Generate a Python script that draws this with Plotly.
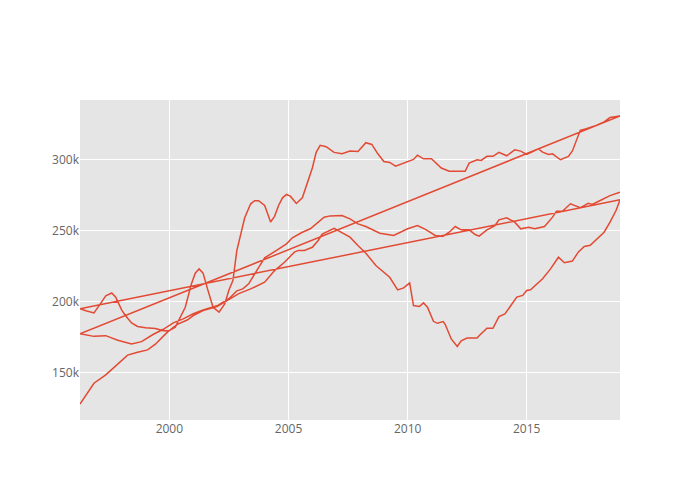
import plotly.graph_objects as go

# Series A (lowest start, dips after 2007)
dates_a = ["1996-04", "1996-11", "1997-05", "1997-10", "1998-04", "1998-09", "1999-02", "1999-06",
           "1999-12", "2000-05", "2000-10", "2001-01", "2001-06", "2002-01", "2002-07", "2002-12",
           "2003-06", "2004-01", "2004-06", "2004-11", "2005-04", "2005-06", "2005-09", "2006-01",
           "2006-04", "2006-06", "2006-12", "2007-08", "2007-12", "2008-04", "2008-09", "2009-04",
           "2009-08", "2009-11", "2010-02", "2010-04", "2010-07", "2010-09", "2010-11", "2011-02",
           "2011-04", "2011-07", "2011-08", "2011-11", "2012-02", "2012-04", "2012-07", "2012-12",
           "2013-01", "2013-05", "2013-08", "2013-11", "2014-02", "2014-05", "2014-08", "2014-11",
           "2015-01", "2015-03", "2015-09", "2016-01", "2016-05", "2016-08", "2016-12", "2017-03",
           "2017-06", "2017-09", "2018-02", "2018-04", "2018-07", "2018-10", "2018-12"]
values_a = [127.9, 142.5, 148.4, 154.9, 162.3, 164.3, 166.0, 170.0,
            178.5, 184.0, 187.0, 190.1, 193.6, 196.5, 201.2, 205.6,
            208.9, 213.6, 221.8, 227.7, 234.8, 236.0, 236.0, 238.2,
            243.0, 247.5, 251.6, 245.3, 239.4, 234.0, 225.4, 217.1,
            208.2, 209.6, 213.1, 197.2, 196.5, 199.1, 196.0, 186.1,
            184.7, 185.9, 183.8, 173.7, 168.4, 172.4, 174.3, 174.3,
            175.9, 181.2, 181.2, 189.4, 191.3, 197.2, 203.1, 204.3,
            207.8, 208.3, 216.0, 223.0, 231.2, 227.3, 228.5, 234.8,
            238.8, 239.6, 246.5, 248.8, 255.9, 264.1, 271.6]

# Series B (top curve)
dates_b = ["1996-04", "1996-07", "1996-11", "1997-02", "1997-05", "1997-08", "1997-10", "1998-01",
           "1998-03", "1998-06", "1998-09", "1999-01", "1999-06", "1999-10", "2000-01", "2000-04",
           "2000-07", "2000-09", "2000-12", "2001-02", "2001-04", "2001-06", "2001-08", "2001-11",
           "2002-02", "2002-05", "2002-07", "2002-09", "2002-11", "2003-01", "2003-03", "2003-06",
           "2003-08", "2003-10", "2004-01", "2004-03", "2004-04", "2004-06", "2004-08", "2004-10",
           "2004-12", "2005-02", "2005-05", "2005-08", "2005-11", "2006-01", "2006-03", "2006-05",
           "2006-08", "2006-12", "2007-04", "2007-08", "2007-12", "2008-02", "2008-04", "2008-07",
           "2008-10", "2009-01", "2009-04", "2009-07", "2009-10", "2010-02", "2010-04", "2010-06",
           "2010-09", "2011-01", "2011-03", "2011-06", "2011-10", "2012-06", "2012-08", "2012-12",
           "2013-02", "2013-05", "2013-08", "2013-11", "2014-03", "2014-07", "2014-10", "2015-01",
           "2015-07", "2015-09", "2015-12", "2016-02", "2016-06", "2016-10", "2016-12", "2017-04",
           "2017-07", "2017-12", "2018-04", "2018-07", "2018-12"]
values_b = [195.0, 193.5, 192.0, 198.0, 204.0, 206.0, 203.0, 194.0,
            190.0, 185.0, 182.5, 181.5, 181.0, 179.5, 179.6, 182.0,
            190.0, 196.0, 212.0, 220.0, 223.0, 220.0, 210.0, 196.0,
            192.6, 198.5, 208.0, 214.8, 236.0, 248.0, 259.0, 268.8,
            271.0, 271.0, 267.6, 260.0, 256.0, 260.0, 267.6, 273.0,
            275.4, 274.0, 269.0, 273.0, 285.0, 294.0, 305.0, 310.0,
            309.0, 305.0, 304.0, 306.0, 305.6, 309.0, 311.8, 310.6,
            304.0, 298.6, 297.9, 295.3, 297.0, 299.3, 300.0, 303.0,
            300.5, 300.5, 298.1, 294.0, 291.7, 291.7, 297.4, 299.8,
            299.3, 302.2, 302.2, 305.0, 302.6, 306.8, 305.9, 303.5,
            307.5, 305.2, 303.5, 304.0, 299.8, 302.2, 306.0, 320.5,
            321.7, 324.0, 326.4, 329.5, 330.6]

# Series C (middle curve)
dates_c = ["1996-04", "1996-11", "1997-05", "1997-11", "1998-06", "1998-11", "1999-05", "1999-10",
           "2000-03", "2000-08", "2001-01", "2001-06", "2002-01", "2002-07", "2002-11", "2003-02",
           "2003-05", "2003-09", "2004-01", "2004-07", "2004-12", "2005-03", "2005-08", "2005-12",
           "2006-04", "2006-07", "2006-10", "2007-04", "2007-08", "2007-12", "2008-04", "2008-11",
           "2009-06", "2010-01", "2010-06", "2010-10", "2011-03", "2011-07", "2011-10", "2012-01",
           "2012-04", "2012-08", "2012-11", "2013-01", "2013-05", "2013-09", "2013-11", "2014-03",
           "2014-07", "2014-10", "2015-02", "2015-05", "2015-10", "2016-02", "2016-04", "2016-07",
           "2016-11", "2017-02", "2017-04", "2017-08", "2017-10", "2018-02", "2018-07", "2018-12"]
values_c = [177.3, 175.5, 176.0, 172.8, 170.2, 171.8, 177.0, 180.5,
            185.0, 187.8, 191.4, 194.0, 197.0, 202.0, 207.5, 208.9,
            212.5, 221.8, 230.8, 236.0, 240.6, 244.9, 248.8, 251.2,
            255.9, 259.4, 260.3, 260.6, 258.2, 254.7, 252.8, 248.1,
            246.5, 251.2, 253.5, 250.8, 246.5, 246.0, 248.8, 252.8,
            250.5, 250.5, 247.2, 246.0, 250.5, 253.5, 257.5, 258.9,
            255.9, 251.2, 252.3, 251.2, 252.8, 259.4, 263.6, 263.6,
            268.8, 266.9, 266.0, 269.2, 268.3, 271.1, 274.6, 277.0]

# One trace holding all three series back to back
x_all = [d + "-01" for d in dates_a + dates_b + dates_c]
y_all = [v * 1000 for v in values_a + values_b + values_c]

fig = go.Figure(go.Scatter(x=x_all, y=y_all, mode="lines",
                           line=dict(color="#E24A33", width=1.5)))

fig.update_layout(
    width=692, height=492,
    paper_bgcolor="white",
    plot_bgcolor="#E5E5E5",
    font=dict(family="Open Sans, sans-serif", color="#666666", size=12),
    margin=dict(l=72, r=80, t=92, b=80),
    showlegend=False,
    xaxis=dict(showgrid=True, gridcolor="white", gridwidth=1, zeroline=False,
               showline=False, ticks=""),
    yaxis=dict(showgrid=True, gridcolor="white", gridwidth=1, zeroline=False,
               showline=False, ticks=""),
)

fig.write_html("out.html")
